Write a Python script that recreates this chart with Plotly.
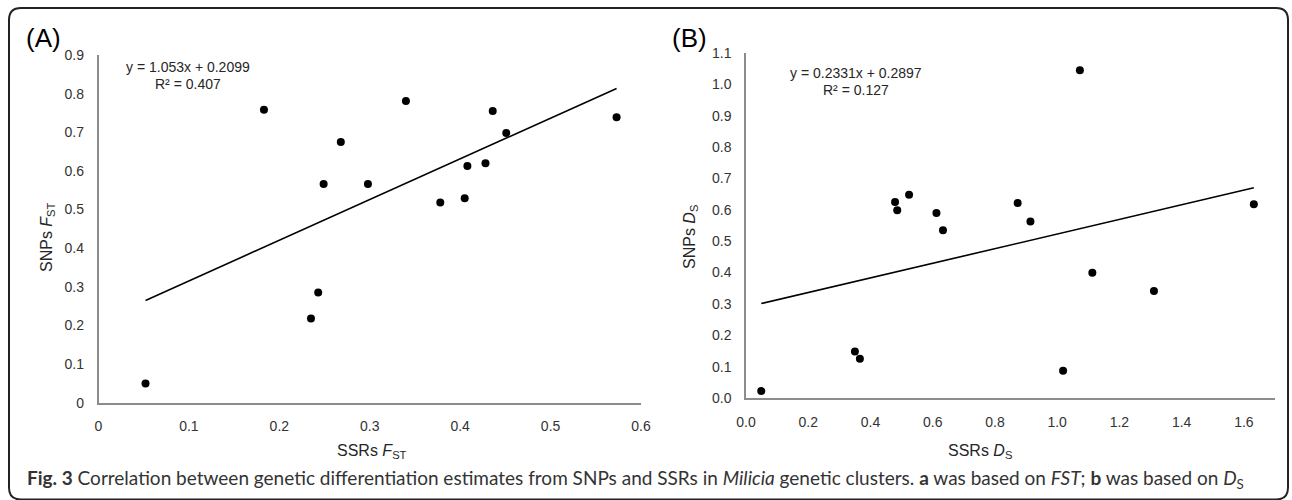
import plotly.graph_objects as go

W, H = 1292, 500

# ---- Panel A data (FST) ----
ssr_fst = [0.052, 0.183, 0.235, 0.243, 0.249, 0.268, 0.298, 0.340, 0.378, 0.405, 0.408, 0.428, 0.436, 0.451, 0.573]
snp_fst = [0.050, 0.758, 0.218, 0.285, 0.566, 0.675, 0.566, 0.781, 0.518, 0.529, 0.613, 0.620, 0.755, 0.698, 0.739]
fit_a = [1.053, 0.2099]  # slope, intercept
r2_a = 0.407
xticks_a = [0, 0.1, 0.2, 0.3, 0.4, 0.5, 0.6]
xtick_text_a = ["0", "0.1", "0.2", "0.3", "0.4", "0.5", "0.6"]
yticks_a = [0, 0.1, 0.2, 0.3, 0.4, 0.5, 0.6, 0.7, 0.8, 0.9]
ytick_text_a = ["0", "0.1", "0.2", "0.3", "0.4", "0.5", "0.6", "0.7", "0.8", "0.9"]

# ---- Panel B data (DS) ----
ssr_ds = [0.049, 0.350, 0.366, 0.479, 0.486, 0.524, 0.612, 0.633, 0.873, 0.914, 1.019, 1.073, 1.113, 1.311, 1.632]
snp_ds = [0.022, 0.148, 0.125, 0.625, 0.599, 0.648, 0.590, 0.535, 0.622, 0.563, 0.087, 1.045, 0.399, 0.341, 0.618]
fit_b = [0.2331, 0.2897]
r2_b = 0.127
xticks_b = [0, 0.2, 0.4, 0.6, 0.8, 1.0, 1.2, 1.4, 1.6]
xtick_text_b = ["0.0", "0.2", "0.4", "0.6", "0.8", "1.0", "1.2", "1.4", "1.6"]
yticks_b = [0, 0.1, 0.2, 0.3, 0.4, 0.5, 0.6, 0.7, 0.8, 0.9, 1.0, 1.1]
ytick_text_b = ["0.0", "0.1", "0.2", "0.3", "0.4", "0.5", "0.6", "0.7", "0.8", "0.9", "1.0", "1.1"]


def px(x):
    return x / W


def py(y):
    return 1 - y / H


FONT = "Liberation Sans, Arial, sans-serif"
TICK_COLOR = "#333333"
AXIS_COLOR = "#8c8c8c"

fig = go.Figure()

for xs, ys, fit, xa, ya in [(ssr_fst, snp_fst, fit_a, "x", "y"), (ssr_ds, snp_ds, fit_b, "x2", "y2")]:
    fig.add_trace(go.Scatter(x=xs, y=ys, mode="markers", xaxis=xa, yaxis=ya,
                             marker=dict(color="black", size=8), showlegend=False))
    x0, x1 = min(xs), max(xs)
    fig.add_trace(go.Scatter(x=[x0, x1], y=[fit[0] * x0 + fit[1], fit[0] * x1 + fit[1]],
                             mode="lines", xaxis=xa, yaxis=ya,
                             line=dict(color="black", width=1.6), showlegend=False))

axis_common = dict(showgrid=False, zeroline=False, showline=True, linecolor=AXIS_COLOR, linewidth=1.5,
                   ticks="", tickfont=dict(family=FONT, size=14, color=TICK_COLOR), ticklabelstandoff=10)

fig.update_layout(
    width=W, height=H,
    margin=dict(l=0, r=0, t=0, b=0, autoexpand=False),
    paper_bgcolor="white", plot_bgcolor="white",
    xaxis=dict(domain=[px(98.5), px(641)], range=[0, 0.6], tickvals=xticks_a, ticktext=xtick_text_a,
               anchor="y", **axis_common),
    yaxis=dict(domain=[py(402.7), py(55)], range=[0, 0.9], tickvals=yticks_a, ticktext=ytick_text_a,
               anchor="x", **axis_common),
    xaxis2=dict(domain=[px(746), px(1275)], range=[0, 1.7], tickvals=xticks_b, ticktext=xtick_text_b,
                anchor="y2", **axis_common),
    yaxis2=dict(domain=[py(398), py(53)], range=[0, 1.1], tickvals=yticks_b, ticktext=ytick_text_b,
                anchor="x2", **axis_common),
)

ann = []


def add_text(x, y, text, size=14, color="black", family=FONT, angle=0, xanchor="center", pad=1):
    ann.append(dict(x=px(x), y=py(y), xref="paper", yref="paper", text=text, showarrow=False,
                    font=dict(family=family, size=size, color=color), textangle=angle,
                    xanchor=xanchor, yanchor="middle", borderpad=pad))


# panel labels
add_text(43, 38, "(A)", size=26)
add_text(690, 38, "(B)", size=26)
# equations
add_text(188, 67, f"y = {fit_a[0]}x + {fit_a[1]}", size=14, color="#262626", pad=0)
add_text(188, 84, f"R² = {r2_a}", size=14, color="#262626", pad=0)
add_text(856, 73, f"y = {fit_b[0]}x + {fit_b[1]}", size=14, color="#262626", pad=0)
add_text(856, 90, f"R² = {r2_b}", size=14, color="#262626", pad=0)
# axis titles
add_text(372, 451, "SSRs <i>F</i><sub>ST</sub>", size=16, color="#262626")
add_text(980, 451, "SSRs <i>D</i><sub>S</sub>", size=16, color="#262626")
add_text(47, 237, "SNPs <i>F</i><sub>ST</sub>", size=16, color="#262626", angle=-90)
add_text(690, 237, "SNPs <i>D</i><sub>S</sub>", size=16, color="#262626", angle=-90)
# caption
caption = ("<b>Fig. 3</b> Correlation between genetic differentiation estimates from SNPs and SSRs in "
           "<i>Milicia</i> genetic clusters. <b>a</b> was based on <i>FST</i>; <b>b</b> was based on "
           "<i>D</i><sub>S</sub>")
add_text(25, 479, caption, size=19, color="#333333", family="Lato, sans-serif", xanchor="left")

fig.update_layout(annotations=ann)

# rounded border
x0, x1, y0, y1 = 9, 1288, 8, 499.5
r = 12
rx, ry = r / W, r / H
L, R, T, B = px(x0), px(x1), py(y0), py(y1)
path = (f"M {L + rx},{T} L {R - rx},{T} Q {R},{T} {R},{T - ry} L {R},{B + ry} Q {R},{B} {R - rx},{B} "
        f"L {L + rx},{B} Q {L},{B} {L},{B + ry} L {L},{T - ry} Q {L},{T} {L + rx},{T} Z")
fig.add_shape(type="path", path=path, xref="paper", yref="paper", line=dict(color="#222222", width=2))

fig.write_html("out.html", config={"displayModeBar": False},
               post_script="document.body.style.margin='0';document.body.style.overflow='hidden';")
